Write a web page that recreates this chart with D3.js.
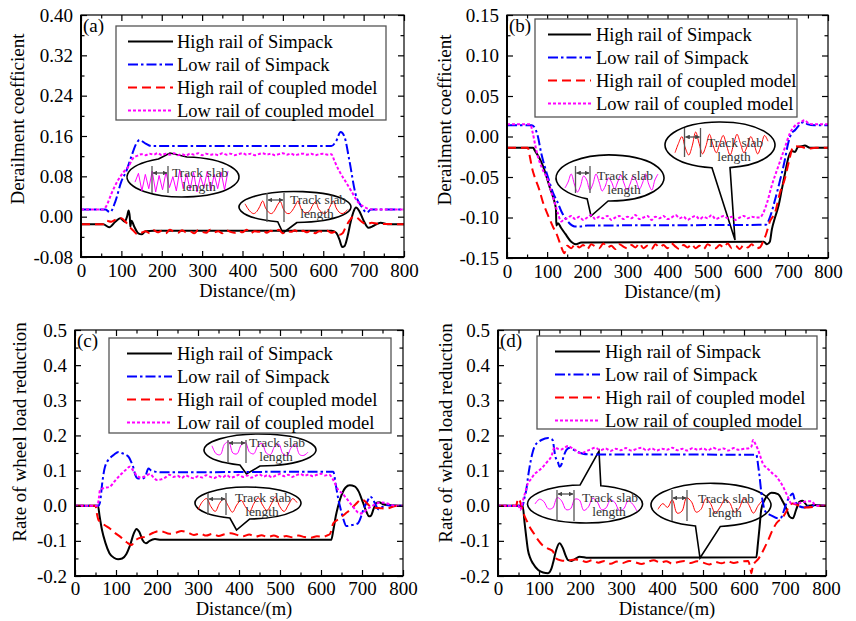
<!DOCTYPE html>
<html>
<head>
<meta charset="utf-8">
<script src="https://cdn.jsdelivr.net/npm/d3@7"></script>
<style>
  body { margin: 0; background: #fff; }
  svg { display: block; font-family: "Liberation Serif", "Times New Roman", serif; }
</style>
</head>
<body>
<div id="chart"></div>
<script>
// ---------- data ----------
var seriesNames = ["High rail of Simpack", "Low rail of Simpack", "High rail of coupled model", "Low rail of coupled model"];
var xTicks = [0, 100, 200, 300, 400, 500, 600, 700, 800];
var xMinorTicks = [50, 150, 250, 350, 450, 550, 650, 750];

// (a) derailment coefficient, case 1
var aYTicks = [-0.08, 0, 0.08, 0.16, 0.24, 0.32, 0.40];
var aYMinor = [-0.04, 0.04, 0.12, 0.20, 0.28, 0.36];
var aHighSimpack = [[0,-0.015],[55,-0.015],[70,-0.021],[85,-0.01],[97,-0.003],[108,-0.01],[114,0.0],[118,0.012],[121,-0.002],[122,-0.02],[125,-0.008],[132,-0.02],[142,-0.033],[150,-0.035],[160,-0.029],[180,-0.028],[620,-0.028],[632,-0.032],[640,-0.045],[647,-0.06],[653,-0.058],[660,-0.04],[668,-0.01],[676,0.012],[681,0.018],[690,0.01],[700,-0.008],[712,-0.022],[725,-0.018],[742,-0.012],[760,-0.015],[800,-0.015]];
var aLowSimpack = [[0,0.014],[60,0.014],[72,0.009],[85,0.03],[100,0.07],[112,0.09],[125,0.12],[137,0.145],[145,0.152],[160,0.145],[175,0.14],[620,0.14],[632,0.15],[643,0.168],[652,0.16],[665,0.11],[680,0.045],[695,0.02],[708,0.008],[718,0.014],[800,0.014]];
var aHighCoupled = [[0,-0.015],[55,-0.015],[62,-0.008],[75,-0.01],[90,-0.004],[100,-0.003],[110,-0.01],[120,-0.02],[130,-0.028],[140,-0.035],[150,-0.032],
  [160,-0.029],[170,-0.033],[180,-0.027],[190,-0.031],[200,-0.028],[210,-0.033],[220,-0.026],[230,-0.03],[240,-0.032],[250,-0.027],[260,-0.031],[270,-0.029],[280,-0.033],[290,-0.027],[300,-0.03],[310,-0.032],[320,-0.026],[330,-0.031],[340,-0.029],[350,-0.033],[360,-0.027],[370,-0.03],[380,-0.032],[390,-0.028],[400,-0.031],[410,-0.026],[420,-0.033],[430,-0.029],[440,-0.03],[450,-0.027],[460,-0.032],[470,-0.028],[480,-0.031],[490,-0.026],[500,-0.033],[510,-0.029],[520,-0.03],[530,-0.027],[540,-0.032],[550,-0.028],[560,-0.031],[570,-0.027],[580,-0.033],[590,-0.029],[600,-0.03],[610,-0.028],[620,-0.032],
  [630,-0.03],[640,-0.036],[648,-0.033],[656,-0.02],[665,-0.008],[675,0.0],[685,-0.003],[695,-0.01],[708,-0.015],[720,-0.012],[735,-0.014],[800,-0.015]];
var aLowCoupled = [[0,0.014],[55,0.014],[62,0.02],[75,0.045],[90,0.07],[105,0.088],[118,0.1],[130,0.117],[140,0.121],
  [150,0.124],[160,0.122],[170,0.125],[180,0.123],[190,0.126],[200,0.122],[210,0.125],[220,0.123],[230,0.126],[240,0.122],[250,0.124],[260,0.121],[270,0.125],[280,0.123],[290,0.126],[300,0.122],[310,0.125],[320,0.123],[330,0.124],[340,0.122],[350,0.126],[360,0.123],[370,0.125],[380,0.122],[390,0.124],[400,0.126],[410,0.123],[420,0.125],[430,0.122],[440,0.124],[450,0.126],[460,0.123],[470,0.125],[480,0.122],[490,0.124],[500,0.126],[510,0.123],[520,0.125],[530,0.122],[540,0.124],[550,0.125],[560,0.123],[570,0.125],[580,0.122],[590,0.124],[600,0.125],[610,0.123],[620,0.124],
  [628,0.11],[640,0.09],[655,0.07],[670,0.05],[685,0.03],[700,0.02],[715,0.015],[730,0.014],[800,0.014]];

// (b) derailment coefficient, case 2
var bYTicks = [-0.15, -0.10, -0.05, 0, 0.05, 0.10, 0.15];
var bYMinor = [-0.125, -0.075, -0.025, 0.025, 0.075, 0.125];
var bHighSimpack = [[0,-0.014],[65,-0.014],[70,-0.018],[80,-0.026],[90,-0.037],[100,-0.052],[106,-0.062],[113,-0.072],[119,-0.082],[122,-0.09],[123,-0.11],[127,-0.107],[135,-0.113],[145,-0.12],[160,-0.13],[172,-0.133],[185,-0.131],[640,-0.13],[648,-0.133],[655,-0.13],[660,-0.115],[668,-0.1],[677,-0.085],[685,-0.065],[693,-0.045],[702,-0.025],[710,-0.018],[718,-0.019],[725,-0.013],[735,-0.012],[742,-0.011],[755,-0.014],[800,-0.014]];
var bLowSimpack = [[0,0.014],[62,0.014],[70,0.01],[77,0.0],[85,-0.02],[94,-0.037],[105,-0.055],[115,-0.07],[125,-0.08],[135,-0.092],[150,-0.104],[169,-0.111],[185,-0.111],[200,-0.11],[645,-0.109],[655,-0.1],[667,-0.08],[680,-0.055],[692,-0.03],[700,-0.01],[708,0.003],[718,0.008],[730,0.015],[740,0.018],[750,0.015],[765,0.014],[800,0.014]];
var bHighCoupled = [[0,-0.014],[52,-0.014],[57,-0.025],[63,-0.04],[69,-0.05],[80,-0.065],[90,-0.082],[102,-0.097],[115,-0.112],[125,-0.122],[135,-0.136],[143,-0.144],
  [150,-0.135],[160,-0.138],[170,-0.133],[180,-0.137],[190,-0.134],[200,-0.139],[210,-0.133],[220,-0.136],[230,-0.138],[240,-0.132],[250,-0.137],[260,-0.135],[270,-0.139],[280,-0.133],[290,-0.136],[300,-0.138],[310,-0.134],[320,-0.137],[330,-0.132],[340,-0.138],[350,-0.135],[360,-0.139],[370,-0.133],[380,-0.137],[390,-0.134],[400,-0.138],[410,-0.132],[420,-0.136],[430,-0.139],[440,-0.134],[450,-0.137],[460,-0.133],[470,-0.138],[480,-0.135],[490,-0.139],[500,-0.133],[510,-0.136],[520,-0.138],[530,-0.134],[540,-0.137],[550,-0.132],[560,-0.138],[570,-0.135],[580,-0.139],[590,-0.134],[600,-0.137],[610,-0.133],[620,-0.138],[630,-0.137],
  [638,-0.13],[646,-0.12],[655,-0.105],[668,-0.094],[680,-0.07],[692,-0.053],[703,-0.03],[713,-0.013],[720,-0.012],[735,-0.013],[750,-0.015],[770,-0.014],[800,-0.014]];
var bLowCoupled = [[0,0.015],[58,0.015],[64,0.005],[70,-0.01],[77,-0.025],[88,-0.04],[102,-0.054],[110,-0.068],[119,-0.082],[127,-0.095],[135,-0.105],[142,-0.102],
  [150,-0.101],[160,-0.098],[170,-0.102],[180,-0.099],[190,-0.103],[200,-0.1],[210,-0.097],[220,-0.102],[230,-0.099],[240,-0.101],[250,-0.098],[260,-0.103],[270,-0.1],[280,-0.098],[290,-0.102],[300,-0.099],[310,-0.101],[320,-0.097],[330,-0.102],[340,-0.1],[350,-0.098],[360,-0.103],[370,-0.099],[380,-0.101],[390,-0.098],[400,-0.102],[410,-0.1],[420,-0.097],[430,-0.101],[440,-0.099],[450,-0.103],[460,-0.1],[470,-0.098],[480,-0.102],[490,-0.099],[500,-0.101],[510,-0.097],[520,-0.102],[530,-0.1],[540,-0.098],[550,-0.101],[560,-0.099],[570,-0.103],[580,-0.1],[590,-0.098],[600,-0.101],[610,-0.099],[620,-0.1],[630,-0.1],
  [638,-0.095],[648,-0.082],[659,-0.062],[676,-0.037],[693,-0.013],[705,0.004],[717,0.013],[733,0.018],[742,0.02],[752,0.016],[765,0.015],[800,0.015]];

// (c) rate of wheel load reduction, case 1
var cYTicks = [-0.2, -0.1, 0, 0.1, 0.2, 0.3, 0.4, 0.5];
var cYMinor = [-0.15, -0.05, 0.05, 0.15, 0.25, 0.35, 0.45];
var cHighSimpack = [[0,0],[56,0],[60,-0.03],[66,-0.07],[74,-0.105],[84,-0.135],[95,-0.148],[105,-0.152],[115,-0.15],[125,-0.138],[135,-0.11],[143,-0.08],[150,-0.066],[157,-0.075],[165,-0.098],[173,-0.107],[182,-0.1],[195,-0.095],[210,-0.097],[625,-0.097],[630,-0.07],[636,-0.03],[642,0.0],[650,0.03],[660,0.052],[670,0.058],[682,0.055],[692,0.04],[702,0.01],[710,-0.015],[717,-0.03],[722,-0.028],[728,-0.01],[735,0.008],[742,0.01],[750,0.005],[762,0.002],[800,0]];
var cLowSimpack = [[0,0],[57,0],[61,0.01],[67,0.07],[73,0.11],[85,0.135],[95,0.145],[106,0.153],[118,0.148],[130,0.14],[137,0.125],[142,0.11],[147,0.088],[152,0.078],[162,0.077],[171,0.082],[179,0.106],[186,0.1],[195,0.097],[215,0.095],[630,0.097],[636,0.06],[642,0.02],[648,-0.01],[655,-0.04],[662,-0.058],[676,-0.055],[690,-0.05],[698,-0.03],[705,-0.005],[711,0.007],[720,0.026],[726,0.02],[733,0.003],[740,-0.01],[748,-0.005],[758,0.002],[770,0.0],[800,0]];
var cHighCoupled = [[0,0],[50,0],[53,-0.02],[57,-0.04],[61,-0.045],[72,-0.055],[85,-0.065],[98,-0.078],[110,-0.088],[126,-0.104],[138,-0.112],[146,-0.1],[155,-0.093],[165,-0.09],[173,-0.088],[182,-0.082],[191,-0.077],[205,-0.072],
  [215,-0.074],[230,-0.08],[245,-0.077],[260,-0.072],[275,-0.076],[290,-0.083],[305,-0.079],[320,-0.085],[335,-0.08],[350,-0.086],[365,-0.081],[380,-0.078],[395,-0.083],[410,-0.087],[425,-0.082],[440,-0.088],[455,-0.084],[470,-0.089],[485,-0.085],[500,-0.09],[515,-0.086],[530,-0.09],[545,-0.085],[560,-0.089],[575,-0.091],[590,-0.087],
  [606,-0.088],[614,-0.085],[622,-0.08],[630,-0.05],[646,-0.036],[660,-0.022],[671,-0.012],[685,0.005],[700,0.018],[708,0.012],[718,0.0],[728,-0.005],[745,-0.007],[760,-0.008],[775,-0.003],[785,0],[800,0]];
var cLowCoupled = [[0,0],[55,0],[58,0.02],[61,0.045],[70,0.05],[85,0.054],[97,0.07],[110,0.087],[122,0.1],[134,0.111],[142,0.1],[150,0.087],[160,0.08],[170,0.083],[183,0.09],[192,0.08],[200,0.073],
  [210,0.075],[220,0.08],[230,0.088],[240,0.082],[250,0.085],[260,0.079],[270,0.086],[280,0.081],[290,0.078],[300,0.084],[310,0.08],[320,0.087],[330,0.082],[340,0.079],[350,0.085],[360,0.081],[370,0.087],[380,0.08],[390,0.083],[400,0.088],[410,0.082],[420,0.086],[430,0.08],[440,0.085],[450,0.089],[460,0.083],[470,0.087],[480,0.081],[490,0.086],[500,0.09],[510,0.084],[520,0.088],[530,0.082],[540,0.087],[550,0.09],[560,0.085],[570,0.089],[580,0.084],[590,0.088],[600,0.091],[610,0.086],[620,0.088],
  [630,0.073],[642,0.045],[652,0.035],[662,0.021],[678,-0.003],[695,-0.022],[703,-0.02],[712,-0.01],[720,-0.004],[732,0.004],[744,0.009],[756,0.008],[768,0.004],[780,0],[800,0]];

// (d) rate of wheel load reduction, case 2
var dYTicks = cYTicks;
var dYMinor = cYMinor;
var dHighSimpack = [[0,0],[60,0],[65,-0.05],[69,-0.09],[73,-0.126],[79,-0.15],[85,-0.164],[98,-0.183],[110,-0.19],[122,-0.192],[130,-0.18],[134,-0.164],[142,-0.126],[150,-0.107],[158,-0.12],[165,-0.142],[171,-0.155],[179,-0.157],[190,-0.15],[199,-0.145],[220,-0.148],[630,-0.147],[634,-0.107],[638,-0.06],[642,-0.012],[650,0.016],[658,0.03],[667,0.037],[683,0.033],[695,0.011],[703,-0.008],[711,-0.031],[719,-0.036],[727,-0.012],[735,0.011],[743,0.014],[755,0.0],[770,0.002],[800,0]];
var dLowSimpack = [[0,0],[60,0],[64,0.02],[69,0.045],[73,0.08],[77,0.11],[83,0.145],[89,0.168],[97,0.18],[106,0.187],[122,0.193],[130,0.19],[134,0.185],[137,0.16],[140,0.14],[146,0.125],[150,0.111],[155,0.118],[160,0.14],[167,0.159],[175,0.165],[183,0.16],[191,0.155],[207,0.148],[225,0.146],[630,0.145],[635,0.11],[638,0.083],[642,0.04],[646,0.01],[650,-0.012],[658,-0.022],[667,-0.028],[683,-0.036],[691,-0.033],[697,-0.015],[703,0.006],[711,0.025],[719,0.035],[723,0.02],[731,0.001],[747,-0.005],[760,0.0],[800,0]];
var dHighCoupled = [[0,0],[44,0],[49,0.02],[53,0.015],[57,0.0],[65,-0.03],[71,-0.045],[77,-0.06],[88,-0.08],[98,-0.098],[108,-0.112],[118,-0.12],[128,-0.125],[134,-0.13],[142,-0.15],[152,-0.155],[163,-0.157],[175,-0.155],[187,-0.153],[203,-0.155],
  [215,-0.16],[230,-0.155],[245,-0.162],[260,-0.157],[275,-0.165],[290,-0.159],[305,-0.163],[320,-0.157],[335,-0.161],[350,-0.166],[365,-0.16],[380,-0.155],[395,-0.162],[410,-0.158],[425,-0.165],[440,-0.16],[455,-0.157],[470,-0.163],[485,-0.158],[500,-0.162],[515,-0.167],[530,-0.16],[545,-0.164],[560,-0.158],[575,-0.163],[590,-0.159],
  [610,-0.157],[615,-0.175],[618,-0.192],[622,-0.169],[628,-0.16],[634,-0.153],[642,-0.138],[650,-0.12],[659,-0.098],[667,-0.076],[679,-0.05],[695,-0.032],[703,-0.017],[711,0.0],[718,0.006],[728,0.003],[747,-0.005],[772,-0.003],[788,0],[800,0]];
var dLowCoupled = [[0,0],[50,0],[54,-0.012],[58,0.0],[62,0.02],[67,0.04],[73,0.064],[80,0.075],[89,0.09],[100,0.1],[110,0.111],[120,0.125],[130,0.14],[138,0.166],[146,0.162],[154,0.16],[162,0.165],[171,0.17],[179,0.165],[187,0.16],[195,0.152],[203,0.149],
  [215,0.155],[225,0.16],[237,0.165],[250,0.158],[262,0.163],[275,0.156],[287,0.162],[300,0.158],[312,0.164],[325,0.157],[337,0.161],[350,0.165],[362,0.158],[375,0.163],[387,0.157],[400,0.162],[412,0.159],[425,0.165],[437,0.158],[450,0.162],[462,0.157],[475,0.164],[487,0.159],[500,0.163],[512,0.158],[525,0.165],[537,0.159],[550,0.163],[562,0.157],[575,0.164],[587,0.159],[600,0.162],
  [610,0.163],[618,0.168],[622,0.187],[628,0.175],[634,0.16],[640,0.14],[646,0.12],[655,0.108],[663,0.1],[671,0.09],[679,0.083],[687,0.07],[695,0.055],[701,0.04],[707,0.026],[715,0.007],[728,0.006],[740,0.009],[752,0.012],[764,0.013],[776,0.0],[800,0]];

// inset traces inside the call-out bubbles (0 = top of inset, 1 = bottom)
var insetA1 = [0.55,0.15,0.95,0.2,0.85,0.05,1.0,0.25,0.9,0.1,0.8,0.3,0.95,0.0,0.85,0.2,0.9,0.1,1.0,0.3,0.8,0.05,0.95,0.2,0.85,0.1,0.9,0.05];
var insetA2 = [0.2,0.55,0.8,0.9,0.75,0.4,0.0,0.5,0.8,0.9,0.7,0.3,0.05,0.55,0.85,0.9,0.7,0.35,0.0,0.5,0.8,0.85,0.7,0.3,0.05,0.55,0.8,0.9,0.75,0.35,0.0,0.5,0.8,0.9,0.8,0.6];
var insetB1 = [0.8,0.5,0.1,0.6,1.0,0.7,0.2,0.4,0.9,0.6,0.1,0.5,0.95,0.7,0.3,0.5,0.85,0.5,0.15,0.55,0.9,0.6,0.2,0.45,0.85,0.55,0.1,0.6,0.9,0.4,0.1];
var insetB2 = [0.9,0.5,0.2,0.7,1.0,0.6,0.0,0.5,0.95,0.6,0.1,0.55,0.9,0.5,0.15,0.6,1.0,0.55,0.1,0.5,0.9,0.6,0.2,0.55,0.95,0.6,0.15,0.4];
var insetC1 = [0.3,0.8,0.85,0.2,0.05,0.75,0.8,0.25,0.1,0.7,0.8,0.3,0.15,0.75,0.85,0.35,0.2,0.8,0.9,0.4,0.25,0.85,0.9,0.7];
var insetC2 = [0.8,0.3,0.1,0.6,0.9,0.4,0.1,0.55,0.95,0.5,0.2,0.6,0.9,0.4,0.05,0.5,0.85,0.45,0.0,0.6,0.9,0.5,0.1,0.35];
var insetD1 = [0.5,0.2,0.35,0.8,0.75,0.1,0.3,0.85,0.8,0.2,0.25,0.9,0.7,0.15,0.35,0.85,0.75,0.25,0.4,0.9,0.8,0.3,0.5,0.95];
var insetD2 = [0.7,0.4,0.6,0.2,0.9,0.8,0.1,0.3,0.85,0.7,0.15,0.4,0.9,0.6,0.2,0.35,0.85,0.65,0.1,0.45,0.9,0.5,0.2];

// ---------- styling / layout ----------
var styles = [
  {color: "#000000", dash: null},
  {color: "#0000ff", dash: "10,3,2.5,3"},
  {color: "#ff0000", dash: "9,5"},
  {color: "#ff00ff", dash: "3,2"}
];
var serif = '"Liberation Serif", "Times New Roman", serif';

var panels = [
  {label: "(a)", left: 81, right: 404, top: 15, bottom: 257, yDomain: [-0.08, 0.40], yTicks: aYTicks, yMinor: aYMinor, digits: 2,
   yTitle: "Derailment coefficient", titleX: 20, titleY: 119, xLabelPad: 7, xTitleGap: 39.5,
   series: [aHighSimpack, aLowSimpack, aHighCoupled, aLowCoupled],
   legend: {x: 116, y: 26, w: 270, h: 94, lx0: 12, lx1: 57, tx: 61},
   callouts: [
     {cx: 183, cy: 177, rx: 56, ry: 20, a1: -116, a2: -86, tip: [170, 153], trace: insetA1, color: "#ff00ff", box: [135, 170, 228, 192], curve: d3.curveLinear, vx: [152, 168], vy: [166, 193], ay: 173, tx: 172, ty: 177},
     {cx: 295, cy: 207, rx: 56, ry: 15.5, a1: 88, a2: 108, tip: [283, 233], trace: insetA2, color: "#ff0000", box: [245, 201, 348, 215], curve: d3.curveCatmullRom, vx: [267, 284], vy: [193, 222], ay: 200, tx: 290, ty: 204}
   ]},
  {label: "(b)", left: 507, right: 828, top: 15, bottom: 258, yDomain: [-0.15, 0.15], yTicks: bYTicks, yMinor: bYMinor, digits: 2,
   yTitle: "Derailment coefficient", titleX: 447, titleY: 120, xLabelPad: 7, xTitleGap: 39.5,
   series: [bHighSimpack, bLowSimpack, bHighCoupled, bLowCoupled],
   legend: {x: 535, y: 19, w: 262, h: 98, lx0: 13, lx1: 56, tx: 61},
   callouts: [
     {cx: 610, cy: 178, rx: 54, ry: 23, a1: 92, a2: 115, tip: [591, 216], trace: insetB1, color: "#ff00ff", box: [565, 172, 658, 192], curve: d3.curveCatmullRom, vx: [575.5, 590], vy: [166, 193], ay: 173, tx: 597, ty: 180},
     {cx: 720, cy: 145, rx: 55, ry: 23, a1: 79.5, a2: 98.4, tip: [735, 240], trace: insetB2, color: "#ff0000", box: [675, 132, 768, 155], curve: d3.curveCatmullRom, vx: [684.5, 700.5], vy: [128, 157], ay: 137, tx: 707, ty: 147}
   ]},
  {label: "(c)", left: 75, right: 403, top: 330, bottom: 576, yDomain: [-0.2, 0.5], yTicks: cYTicks, yMinor: cYMinor, digits: 1,
   yTitle: "Rate of wheel load reduction", titleX: 22, titleY: 432, xLabelPad: 5.5, xTitleGap: 38.5,
   series: [cHighSimpack, cLowSimpack, cHighCoupled, cLowCoupled],
   legend: {x: 109, y: 338, w: 282, h: 95, lx0: 18, lx1: 63, tx: 68},
   callouts: [
     {cx: 260, cy: 450, rx: 56, ry: 16, a1: 90, a2: 111, tip: [246.5, 474], trace: insetC1, color: "#ff00ff", box: [212, 441, 308, 457], curve: d3.curveCatmullRom, vx: [228, 246], vy: [440, 463], ay: 443, tx: 249, ty: 447},
     {cx: 248, cy: 503, rx: 53, ry: 16, a1: 88, a2: 110, tip: [236.5, 530], trace: insetC2, color: "#ff0000", box: [198, 497, 297, 513], curve: d3.curveCatmullRom, vx: [208, 226], vy: [493, 515], ay: 499, tx: 235, ty: 502}
   ]},
  {label: "(d)", left: 498, right: 826, top: 330, bottom: 576, yDomain: [-0.2, 0.5], yTicks: dYTicks, yMinor: dYMinor, digits: 1,
   yTitle: "Rate of wheel load reduction", titleX: 448, titleY: 433, xLabelPad: 5.5, xTitleGap: 38.5,
   series: [dHighSimpack, dLowSimpack, dHighCoupled, dLowCoupled],
   legend: {x: 537, y: 336, w: 280, h: 93, lx0: 18, lx1: 63, tx: 68},
   callouts: [
     {cx: 585, cy: 504, rx: 57.5, ry: 19, a1: -95, a2: -74, tip: [599, 451], trace: insetD1, color: "#ff00ff", box: [535, 496, 637, 512], curve: d3.curveCatmullRom, vx: [557, 574], vy: [490, 521], ay: 494, tx: 582, ty: 502},
     {cx: 711, cy: 505, rx: 60, ry: 21.7, a1: 81, a2: 105, tip: [700, 558], trace: insetD2, color: "#ff0000", box: [658, 496, 763, 515], curve: d3.curveCatmullRom, vx: [672, 687], vy: [490, 521], ay: 498, tx: 698, ty: 503}
   ]}
];

var svg = d3.select("#chart").append("svg")
  .attr("width", 856)
  .attr("height", 621);

// arrow heads for the "track slab length" dimension
var defs = svg.append("defs");
defs.append("marker").attr("id", "arr").attr("viewBox", "0 0 10 10")
  .attr("refX", 9).attr("refY", 5).attr("markerWidth", 4).attr("markerHeight", 4)
  .attr("orient", "auto-start-reverse")
  .append("path").attr("d", "M0,0L10,5L0,10Z").attr("fill", "#444");

panels.forEach(drawPanel);

function drawPanel(p) {
  var x = d3.scaleLinear().domain([0, 800]).range([p.left, p.right]);
  var y = d3.scaleLinear().domain(p.yDomain).range([p.bottom, p.top]);
  var g = svg.append("g");

  // call-out bubbles sit under the curves
  p.callouts.forEach(function(c) { drawCallout(g, c); });

  // curves, in legend order (last drawn on top)
  var line = d3.line().curve(d3.curveMonotoneX).x(d => x(d[0])).y(d => y(d[1]));
  p.series.forEach(function(s, i) {
    g.append("path").datum(s)
      .attr("d", line)
      .attr("fill", "none")
      .attr("stroke", styles[i].color)
      .attr("stroke-width", 2)
      .attr("stroke-dasharray", styles[i].dash);
  });

  // axes: ticks point inward on all four sides
  var fmt = d => d.toFixed(p.digits);
  var left = g.append("g").attr("transform", `translate(${p.left},0)`)
    .call(d3.axisLeft(y).tickValues(p.yTicks).tickSizeInner(-6).tickSizeOuter(0).tickPadding(8).tickFormat(fmt));
  var bottom = g.append("g").attr("transform", `translate(0,${p.bottom})`)
    .call(d3.axisBottom(x).tickValues(xTicks).tickSizeInner(-6).tickSizeOuter(0).tickPadding(p.xLabelPad).tickFormat(d3.format("d")));
  [left, bottom].forEach(function(a) {
    a.attr("font-family", serif).attr("font-size", 19);
    a.selectAll("text").attr("fill", "#000");
    a.select(".domain").remove();
  });
  g.append("g").attr("transform", `translate(${p.left},0)`)
    .call(d3.axisLeft(y).tickValues(p.yMinor).tickSize(-3.5).tickFormat(""));
  g.append("g").attr("transform", `translate(0,${p.bottom})`)
    .call(d3.axisBottom(x).tickValues(xMinorTicks).tickSize(-3.5).tickFormat(""));
  g.append("g").attr("transform", `translate(0,${p.top})`)
    .call(d3.axisTop(x).tickValues(xTicks).tickSize(-6).tickFormat(""));
  g.append("g").attr("transform", `translate(0,${p.top})`)
    .call(d3.axisTop(x).tickValues(xMinorTicks).tickSize(-3.5).tickFormat(""));
  g.append("g").attr("transform", `translate(${p.right},0)`)
    .call(d3.axisRight(y).tickValues(p.yTicks).tickSize(-6).tickFormat(""));
  g.append("g").attr("transform", `translate(${p.right},0)`)
    .call(d3.axisRight(y).tickValues(p.yMinor).tickSize(-3.5).tickFormat(""));
  g.selectAll(".domain").remove();
  g.selectAll(".tick line").attr("stroke", "#000").attr("stroke-width", 1.2);

  // frame: heavier on left/bottom
  g.append("rect").attr("x", p.left).attr("y", p.top)
    .attr("width", p.right - p.left).attr("height", p.bottom - p.top)
    .attr("fill", "none").attr("stroke", "#000").attr("stroke-width", 1.2);
  g.append("path")
    .attr("d", `M${p.left},${p.top}V${p.bottom}H${p.right}`)
    .attr("fill", "none").attr("stroke", "#000").attr("stroke-width", 2);

  // titles
  g.append("text")
    .attr("transform", `translate(${p.titleX},${p.titleY})rotate(-90)`)
    .attr("text-anchor", "middle").attr("dominant-baseline", "middle")
    .attr("font-size", 19)
    .text(p.yTitle);
  g.append("text")
    .attr("x", (p.left + p.right) / 2 + 5).attr("y", p.bottom + p.xTitleGap)
    .attr("text-anchor", "middle").attr("font-size", 18.5)
    .text("Distance/(m)");
  g.append("text")
    .attr("x", p.left + 2).attr("y", p.top + 17)
    .attr("font-size", 19)
    .text(p.label);

  // legend
  var L = p.legend;
  var lg = g.append("g").attr("transform", `translate(${L.x},${L.y})`);
  lg.append("rect").attr("width", L.w).attr("height", L.h)
    .attr("fill", "#fff").attr("stroke", "#555").attr("stroke-width", 1.3);
  seriesNames.forEach(function(name, i) {
    var ry = 15.5 + i * 23;
    lg.append("line").attr("x1", L.lx0).attr("x2", L.lx1).attr("y1", ry).attr("y2", ry)
      .attr("stroke", styles[i].color).attr("stroke-width", 2)
      .attr("stroke-dasharray", styles[i].dash);
    lg.append("text").attr("x", L.tx).attr("y", ry + 6)
      .attr("font-size", 18.5).text(name);
  });
}

function drawCallout(g, c) {
  var pt = a => [c.cx + c.rx * Math.cos(a * Math.PI / 180), c.cy + c.ry * Math.sin(a * Math.PI / 180)];
  var p1 = pt(c.a1), p2 = pt(c.a2);
  g.append("path")
    .attr("d", `M${p1[0]},${p1[1]}L${c.tip[0]},${c.tip[1]}L${p2[0]},${p2[1]}A${c.rx},${c.ry} 0 1 1 ${p1[0]},${p1[1]}Z`)
    .attr("fill", "#fff").attr("stroke", "#000").attr("stroke-width", 1.6);

  var ix = d3.scaleLinear().domain([0, c.trace.length - 1]).range([c.box[0], c.box[2]]);
  var iy = d3.scaleLinear().domain([0, 1]).range([c.box[1], c.box[3]]);
  g.append("path").datum(c.trace)
    .attr("d", d3.line().curve(c.curve).x((d, i) => ix(i)).y(d => iy(d)))
    .attr("fill", "none").attr("stroke", c.color).attr("stroke-width", 1);

  c.vx.forEach(function(vx) {
    g.append("line").attr("x1", vx).attr("x2", vx).attr("y1", c.vy[0]).attr("y2", c.vy[1])
      .attr("stroke", "#555").attr("stroke-width", 1.3);
  });
  g.append("line").attr("x1", c.vx[0] + 1).attr("x2", c.vx[1] - 1).attr("y1", c.ay).attr("y2", c.ay)
    .attr("stroke", "#444").attr("stroke-width", 1.2)
    .attr("marker-start", "url(#arr)").attr("marker-end", "url(#arr)");

  g.append("text").attr("x", c.tx).attr("y", c.ty)
    .attr("font-size", 13.5).attr("fill", "#333").text("Track slab");
  g.append("text").attr("x", c.tx + 27).attr("y", c.ty + 13.5)
    .attr("text-anchor", "middle").attr("font-size", 13.5).attr("fill", "#333").text("length");
}
</script>
</body>
</html>
